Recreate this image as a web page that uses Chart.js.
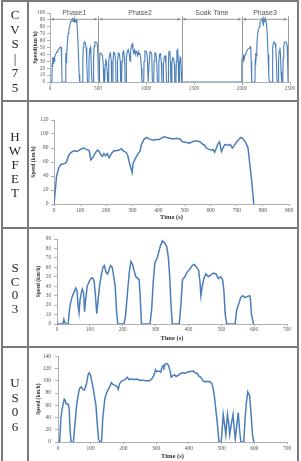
<!DOCTYPE html>
<html><head><meta charset="utf-8">
<script src="https://cdn.jsdelivr.net/npm/chart.js@4.4.1/dist/chart.umd.min.js"></script>
<style>
html,body{margin:0;padding:0;background:#fff;}
body{width:301px;height:461px;position:relative;overflow:hidden;}
.ln{position:absolute;background:#7a7a7a;}
.lab{position:absolute;left:2px;width:26px;text-align:center;font-family:'Liberation Serif','Times New Roman',serif;font-size:13px;color:#222;opacity:0.99;will-change:opacity;-webkit-font-smoothing:antialiased;}
canvas{position:absolute;}
</style></head><body>
<div class="ln" style="left:1px;top:0;width:2px;height:461px"></div>
<div class="ln" style="left:27px;top:0;width:2px;height:461px"></div>
<div class="ln" style="left:297px;top:0;width:2px;height:461px"></div>
<div class="ln" style="left:1px;top:0;width:298px;height:2px"></div>
<div class="ln" style="left:1px;top:100px;width:298px;height:2px"></div>
<div class="ln" style="left:1px;top:227px;width:298px;height:2px"></div>
<div class="ln" style="left:1px;top:346px;width:298px;height:2px"></div>

<div class="lab" style="top:8px;line-height:14.5px">C<br>V<br>S<br>|<br>7<br>5</div>
<div class="lab" style="top:130px;line-height:14px">H<br>W<br>F<br>E<br>T</div>
<div class="lab" style="top:261px;line-height:13.5px">S<br>C<br>0<br>3</div>
<div class="lab" style="top:376px;line-height:14.5px">U<br>S<br>0<br>6</div>

<canvas id="c1" width="268" height="98" style="left:29px;top:2px"></canvas>
<canvas id="c2" width="268" height="124" style="left:29px;top:103px"></canvas>
<canvas id="c3" width="268" height="116" style="left:29px;top:230px"></canvas>
<canvas id="c4" width="268" height="112" style="left:29px;top:349px"></canvas>

<script>
// ---------- DATA ----------
const cycleLabels = ['CVS-75', 'HWFET', 'SC03', 'US06'];

// CVS-75: [time s, speed km/h]
const cvsPhase1 = [[0,0],[20,0],[23,25],[26,35],[29,24],[32,36],[35,26],[38,35],[42,30],[46,37],[52,36],[58,40],[66,42],[74,44],[82,47],[92,48],[100,49],[108,51],[116,50],[121,30],[126,0],[160,0],[163,30],[166,42],[169,28],[173,38],[180,55],[188,70],[196,76],[204,80],[212,86],[220,88],[228,91],[236,92],[242,88],[248,92],[254,87],[260,91],[266,88],[272,90],[280,85],[288,70],[296,40],[304,10],[310,0],[338,0],[342,30],[347,50],[353,57],[361,58],[369,56],[377,50],[383,30],[390,0],[402,0],[406,30],[412,45],[420,50],[426,40],[432,15],[438,0],[450,0],[454,35],[460,52],[468,58],[478,58],[488,57],[496,52],[501,25],[505,0]];
const cvsPhase2 = [[512,0],[516,30],[522,42],[530,42],[540,40],[548,38],[556,20],[560,0],[570,0],[574,25],[580,32],[588,30],[596,15],[600,0],[608,0],[612,30],[620,40],[630,42],[638,30],[642,0],[652,0],[656,30],[664,43],[674,42],[684,30],[688,0],[700,0],[704,30],[712,42],[722,41],[732,30],[736,0],[746,0],[750,30],[758,43],[768,45],[778,32],[782,0],[792,0],[796,35],[806,45],[816,47],[826,40],[834,30],[840,45],[848,52],[856,55],[864,47],[872,42],[880,46],[888,40],[896,45],[904,43],[912,38],[920,44],[928,40],[936,42],[944,35],[952,20],[958,0],[976,0],[980,30],[988,45],[998,45],[1008,43],[1016,30],[1022,0],[1030,0],[1034,30],[1042,44],[1052,43],[1060,40],[1066,0],[1080,0],[1084,30],[1092,42],[1102,42],[1112,30],[1118,0],[1130,0],[1134,28],[1142,40],[1152,41],[1160,28],[1166,0],[1178,0],[1182,25],[1190,36],[1200,38],[1208,25],[1214,0],[1230,0],[1234,30],[1240,44],[1248,45],[1254,30],[1258,0],[1266,0],[1270,25],[1278,35],[1288,34],[1296,25],[1300,0],[1312,0],[1316,30],[1322,45],[1330,47],[1336,30],[1340,0],[1346,0],[1350,25],[1356,36],[1362,34],[1368,15],[1372,0]];
const cvsPhase3 = [[1995,0],[1998,25],[2001,35],[2004,24],[2007,36],[2010,26],[2013,35],[2017,30],[2021,37],[2027,36],[2033,40],[2041,42],[2049,44],[2057,47],[2067,48],[2075,49],[2083,51],[2091,50],[2096,30],[2101,0],[2135,0],[2138,30],[2141,42],[2144,28],[2148,38],[2155,55],[2163,70],[2171,76],[2179,80],[2187,86],[2195,88],[2203,91],[2211,92],[2217,88],[2223,92],[2229,87],[2235,91],[2241,88],[2247,90],[2255,85],[2263,70],[2271,40],[2279,10],[2285,0],[2313,0],[2317,30],[2322,50],[2328,57],[2336,58],[2344,56],[2352,50],[2358,30],[2365,0],[2377,0],[2381,30],[2387,45],[2395,50],[2401,40],[2407,15],[2413,0],[2425,0],[2429,35],[2435,52],[2443,58],[2453,58],[2463,57],[2471,52],[2476,25],[2480,0]];
const phaseBounds = [0, 505, 1372, 2000, 2480];
const phaseNames = ['Phase1', 'Phase2', 'Soak Time', 'Phase3'];

const hwfetCycle = [[0,0],[10,40],[17,50],[23,55],[29,57],[35,57],[42,58],[48,60],[55,68],[61,72],[71,75],[80,76],[89,75],[97,77],[106,79],[115,80],[122,78],[131,77],[135,76],[141,63],[148,66],[154,70],[160,74],[167,77],[173,75],[180,70],[185,68],[191,72],[197,69],[204,72],[211,66],[220,72],[229,76],[239,76],[250,77],[259,79],[265,76],[275,74],[282,70],[288,60],[297,48],[299,45],[303,58],[313,66],[322,72],[329,75],[335,85],[344,92],[354,95],[363,93],[373,92],[382,91],[392,92],[403,92],[411,94],[422,96],[431,95],[443,94],[456,93],[469,94],[482,93],[492,89],[507,88],[520,87],[530,89],[539,90],[552,90],[562,88],[571,85],[577,84],[583,80],[594,78],[603,77],[609,78],[615,74],[622,80],[628,86],[634,89],[641,75],[647,80],[654,85],[666,84],[675,85],[683,80],[688,82],[698,88],[708,92],[715,95],[724,93],[734,88],[743,80],[749,60],[758,30],[765,0]];

const sc03Cycle = [[0,0],[18,0],[21,5],[26,0],[34,0],[37,12],[41,22],[47,30],[51,33],[57,38],[61,35],[64,20],[67,12],[70,25],[74,33],[77,37],[81,33],[84,13],[87,25],[92,40],[98,45],[103,48],[108,49],[113,45],[117,30],[121,11],[125,25],[130,42],[135,52],[140,60],[144,62],[149,55],[154,53],[158,57],[163,62],[168,60],[173,50],[177,40],[181,15],[185,0],[204,0],[209,10],[215,35],[220,55],[225,66],[230,63],[235,56],[240,50],[247,48],[250,47],[253,30],[257,0],[283,0],[288,15],[293,45],[298,65],[305,70],[311,78],[315,83],[321,88],[327,86],[334,82],[339,70],[343,50],[347,20],[351,0],[372,0],[377,20],[382,47],[389,50],[396,55],[404,58],[412,62],[418,63],[425,60],[431,57],[435,45],[438,30],[442,40],[447,48],[453,53],[461,50],[468,52],[476,54],[484,53],[491,48],[498,50],[504,47],[508,35],[512,10],[517,0],[542,0],[547,15],[552,20],[559,28],[565,30],[572,28],[579,29],[587,30],[589,25],[592,10],[598,0]];

const us06Cycle = [[0,0],[5,0],[9,40],[13,55],[19,70],[22,68],[25,62],[31,62],[34,55],[37,20],[40,0],[47,0],[52,30],[57,60],[61,75],[66,88],[71,90],[76,86],[81,85],[87,95],[92,110],[95,113],[99,110],[105,95],[110,80],[116,60],[120,30],[124,5],[128,0],[133,0],[137,40],[143,70],[148,80],[153,85],[158,90],[163,97],[168,94],[176,92],[181,90],[184,86],[188,95],[195,100],[202,101],[207,103],[212,106],[217,102],[224,103],[234,102],[241,103],[249,101],[260,101],[270,100],[280,100],[288,104],[294,110],[298,118],[302,115],[309,116],[314,114],[318,122],[321,125],[324,122],[328,128],[333,128],[338,125],[343,115],[346,106],[351,108],[356,110],[361,107],[368,109],[374,112],[382,113],[389,112],[395,114],[402,115],[409,115],[414,116],[419,113],[426,112],[430,108],[436,106],[443,100],[450,98],[458,99],[465,98],[471,95],[475,85],[479,70],[483,50],[488,25],[492,0],[499,0],[505,45],[510,25],[513,12],[518,45],[522,30],[525,12],[530,30],[535,45],[539,20],[542,5],[546,25],[551,48],[555,20],[559,0],[568,0],[572,40],[576,65],[580,82],[586,75],[591,40],[595,10],[599,0]];

// axis ranges [max, step]
const xRanges = [[2500,500],[900,100],[700,100],[700,100]];
const yRanges = [[100,10],[120,20],[90,10],[140,20]];
const xTitleText = 'Time (s)';
const yTitleText = ['Speed(km/h)', 'Speed (km/h)', 'Speed (km/h)', 'Speed (km/h)'];

// ---------- RENDER ----------
const LINE = '#4A7EBB';
const AXIS = '#b0b0b0';
const TICKC = '#555';
const SERIF = "'Liberation Serif','Times New Roman',serif";

function toXY(pairs){ return pairs.map(p => ({x:p[0], y:p[1]})); }
const plainTick = v => String(v);

function makeOpts(i, c){
  return {
    responsive:false, animation:false, events:[],
    layout:{padding:{left:0, top:c.padTop, right:c.padRight, bottom:0}},
    plugins:{legend:{display:false}, tooltip:{enabled:false}},
    elements:{point:{radius:0}, line:{tension:0, borderWidth:c.lw}},
    scales:{
      x:{type:'linear', min:0, max:xRanges[i][0],
        afterFit:s=>{ s.height = c.xH; },
        grid:{display:true, drawOnChartArea:false, drawTicks:true, tickLength:c.xTick, color:AXIS},
        border:{display:true, color:AXIS, width:1},
        ticks:{stepSize:xRanges[i][1], autoSkip:false, maxRotation:0, padding:c.xPad, color:TICKC, font:{family:SERIF, size:c.tickSize}, callback:plainTick},
        title:{display:c.xTitle, text:xTitleText, color:'#333', font:{family:SERIF, size:6.5, weight:'bold'}, padding:{top:0, bottom:c.xTitlePad}}
      },
      y:{type:'linear', min:0, max:yRanges[i][0],
        afterFit:s=>{ s.width = c.yW; },
        grid:{display:true, drawOnChartArea:false, drawTicks:true, tickLength:3, color:AXIS},
        border:{display:true, color:AXIS, width:1},
        ticks:{stepSize:yRanges[i][1], autoSkip:false, padding:c.yPad, color:TICKC, font:{family:SERIF, size:c.tickSize}, callback:plainTick},
        title:{display:true, text:yTitleText[i], color:'#333', font:{family:SERIF, size:c.yTitleSize, weight:'bold'}, padding:{top:c.yTitlePad, bottom:0}}
      }
    }
  };
}

const phasePlugin = {
  id:'phases',
  afterDatasetsDraw(chart){
    const {ctx, scales:{x, y}} = chart;
    ctx.save();
    const yArrow = y.getPixelForValue(91.5);
    const yTop = y.getPixelForValue(95);
    const y0 = y.getPixelForValue(0);
    ctx.strokeStyle = '#9a9a9a';
    ctx.lineWidth = 1;
    phaseBounds.forEach((b, k) => {
      if (k === 0) return;
      const px = Math.round(x.getPixelForValue(b)) + 0.5;
      ctx.beginPath(); ctx.moveTo(px, yTop); ctx.lineTo(px, y0); ctx.stroke();
    });
    for (let k = 0; k < phaseNames.length; k++) {
      const a = x.getPixelForValue(phaseBounds[k]) + 1;
      const b = x.getPixelForValue(phaseBounds[k+1]) - 1;
      ctx.strokeStyle = '#999';
      ctx.fillStyle = '#888';
      ctx.beginPath(); ctx.moveTo(a, yArrow + 0.5); ctx.lineTo(b, yArrow + 0.5); ctx.stroke();
      ctx.beginPath(); ctx.moveTo(a, yArrow + 0.5); ctx.lineTo(a + 3, yArrow - 1); ctx.lineTo(a + 3, yArrow + 2); ctx.closePath(); ctx.fill();
      ctx.beginPath(); ctx.moveTo(b, yArrow + 0.5); ctx.lineTo(b - 3, yArrow - 1); ctx.lineTo(b - 3, yArrow + 2); ctx.closePath(); ctx.fill();
      ctx.fillStyle = '#555';
      ctx.font = "7px 'Liberation Sans', Arial, sans-serif";
      ctx.textAlign = 'center'; ctx.textBaseline = 'middle';
      ctx.fillText(phaseNames[k], (a + b) / 2, y.getPixelForValue(100));
    }
    ctx.restore();
  }
};

const cfgs = [
  {padTop:11, padRight:7, xH:18, yW:21, lw:1.1, xTick:3, xPad:1, yPad:2, tickSize:5.2, xTitle:false, xTitlePad:0, yTitleSize:6, yTitlePad:2.5},
  {padTop:17, padRight:8, xH:23, yW:25, lw:1.5, xTick:2, xPad:1.5, yPad:2.5, tickSize:5.5, xTitle:true, xTitlePad:6, yTitleSize:5.5, yTitlePad:1},
  {padTop:9, padRight:10, xH:22, yW:28, lw:1.5, xTick:2, xPad:0.5, yPad:3, tickSize:5.2, xTitle:true, xTitlePad:4.2, yTitleSize:5.5, yTitlePad:6},
  {padTop:6, padRight:10, xH:19, yW:29, lw:1.5, xTick:2, xPad:1.5, yPad:4, tickSize:5.5, xTitle:true, xTitlePad:1.2, yTitleSize:5.5, yTitlePad:6}
];

const seriesData = [
  toXY(cvsPhase1.concat(cvsPhase2, cvsPhase3)),
  toXY(hwfetCycle),
  toXY(sc03Cycle),
  toXY(us06Cycle)
];

['c1','c2','c3','c4'].forEach((id, i) => {
  new Chart(document.getElementById(id), {
    type:'line',
    data:{datasets:[{label:cycleLabels[i], data:seriesData[i], borderColor:LINE, backgroundColor:LINE, fill:false, pointRadius:0}]},
    options:makeOpts(i, cfgs[i]),
    plugins: i === 0 ? [phasePlugin] : []
  });
});
</script>
</body></html>
